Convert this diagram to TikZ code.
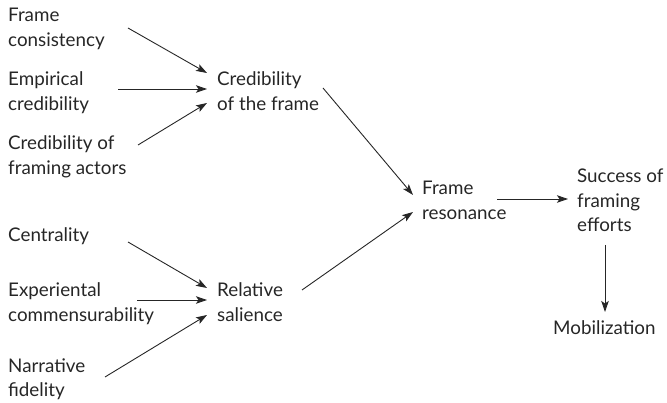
\documentclass[tikz,border=0pt]{standalone}
\usepackage{fontspec}
\setmainfont{Lato}
\usetikzlibrary{arrows.meta}
\begin{document}
\begin{tikzpicture}[x=1pt,y=-1pt,
  lbl/.style={anchor=base west, inner sep=0pt, align=left,
    font=\fontsize{18.8pt}{24.5pt}\selectfont, text=black!85},
  arr/.style={-{Stealth[length=11pt,width=7.5pt,inset=2.5pt]}, line width=0.9pt, black!85}]
\useasboundingbox (0,0) rectangle (667,403);
\node[lbl] (fc) at (8,46.5) {Frame\\consistency};
\node[lbl] (ec) at (8,110.5) {Empirical\\credibility};
\node[lbl] (ca) at (8,174.5) {Credibility of\\framing actors};
\node[lbl] (cf) at (217,110.5) {Credibility\\of the frame};
\node[lbl] (ce) at (8,242) {Centrality};
\node[lbl] (ex) at (8,321.5) {Experiental\\commensurability};
\node[lbl] (rs) at (217,321.5) {Relative\\salience};
\node[lbl] (nf) at (8,396.5) {Narrative\\fidelity};
\node[lbl] (fr) at (422,219.5) {Frame\\resonance};
\node[lbl] (sf) at (577,232) {Success of\\framing\\efforts};
\node[lbl] (mo) at (553,335) {Mobilization};
\draw[arr] ([shift={(120,-18.5)}]fc.base west) -- ([shift={(-10,-37.5)}]cf.base west);
\draw[arr] ([shift={(110,-21.5)}]ec.base west) -- ([shift={(-10,-21.5)}]cf.base west);
\draw[arr] ([shift={(130,-29.5)}]ca.base west) -- ([shift={(-10,-7.5)}]cf.base west);
\draw[arr] ([shift={(106,-22.5)}]cf.base west) -- ([shift={(-9,-24.5)}]fr.base west);
\draw[arr] ([shift={(120,0)}]ce.base west) -- ([shift={(-10,-33.5)}]rs.base west);
\draw[arr] ([shift={(129,-21.5)}]ex.base west) -- ([shift={(-10,-21.5)}]rs.base west);
\draw[arr] ([shift={(97,-19.5)}]nf.base west) -- ([shift={(-10,-6.5)}]rs.base west);
\draw[arr] ([shift={(85,-31.5)}]rs.base west) -- ([shift={(-9,-7.5)}]fr.base west);
\draw[arr] ([shift={(75,-20.5)}]fr.base west) -- ([shift={(-9,-33)}]sf.base west);
\draw[arr] ([shift={(28,13)}]sf.base west) -- ([shift={(52,-23)}]mo.base west);
\end{tikzpicture}
\end{document}
